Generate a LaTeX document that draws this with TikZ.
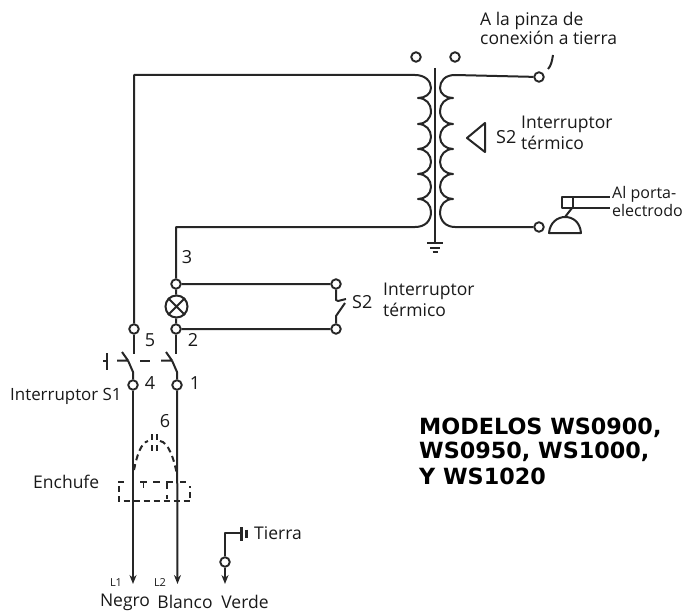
\documentclass[tikz,border=0pt]{standalone}
\usepackage{fontspec}
\setmainfont{Open Sans}
\newfontfamily\modelfont{DejaVu Sans}
\usetikzlibrary{arrows.meta}
\tikzset{
  wire/.style={line width=2pt,black!85,line cap=butt,line join=round},
  thin wire/.style={line width=1.2pt,black!85},
  term/.style={circle,draw=black!85,line width=1.9pt,fill=white,inner sep=0pt,minimum size=9.5pt},
  lbl/.style={inner sep=0pt,font=\fontsize{17.5}{18}\selectfont,text=black!90},
  lbll/.style={lbl,anchor=west,align=left},
  num/.style={inner sep=0pt,font=\fontsize{18}{18}\selectfont,text=black!90},
  dash wire/.style={line width=2pt,black!85,dash pattern=on 6pt off 4pt},
  tip wire/.style={wire,-{Stealth[length=9pt,width=7pt]}},
  modeltext/.style={inner sep=0pt,anchor=west,font=\modelfont\fontsize{22.3}{24}\bfseries\selectfont}
}
\begin{document}
\begin{tikzpicture}[x=1pt,y=-1pt]
\useasboundingbox (0,0) rectangle (687,615);
% terminals
\node[term] (tl) at (416,57) {};
\node[term] (tr) at (455,57) {};
\node[term] (out) at (539,77) {};
\node[term] (elec) at (539,227) {};
\node[term] (n3) at (176,284) {};
\node[term] (n2) at (176,329) {};
\node[term] (n5) at (134,329) {};
\node[term] (s2a) at (336,284) {};
\node[term] (s2b) at (336,329) {};
\node[term] (n4) at (133,385) {};
\node[term] (n1) at (177,385) {};
\node[term] (ng) at (225,562) {};
\node[circle,draw=black!85,line width=2pt,fill=white,inner sep=0pt,minimum size=22pt] (lamp) at (176.5,306.5) {};
\draw[wire] (lamp.45)--(lamp.225) (lamp.135)--(lamp.315);
% coordinates
\coordinate (ltop) at (134,75);
\coordinate (lbot) at (176,227);
\coordinate (sw5) at (134,354);
\coordinate (sw2) at (176,354);
% transformer core
\coordinate (coreT) at (435,68);
\coordinate (coreB) at (435,243);
\draw[line width=2.4pt,black!85] (coreT)--(coreB);
\draw[line width=2pt,black!85] (427,243)--(443,243) (430,247.5)--(440,247.5) (432.5,251.5)--(437.5,251.5);
% left coil
\draw[wire] (n5)--(ltop)--(415,75)
  .. controls (425,75) and (431,81) .. (431,88) .. controls (431,94) and (425,98) .. (418,98)
  .. controls (426,98) and (431,104) .. (431,111) .. controls (431,119) and (425,124) .. (418,124)
  .. controls (426,124) and (431,130) .. (431,137) .. controls (431,144) and (425,149) .. (418,149)
  .. controls (426,149) and (431,155) .. (431,162) .. controls (431,169) and (425,174) .. (418,174)
  .. controls (426,174) and (431,180) .. (431,187) .. controls (431,194) and (425,199) .. (418,199)
  .. controls (426,199) and (431,205) .. (431,212) .. controls (431,221) and (425,227) .. (415,227)
  -- (lbot) -- (n3);
% right coil
\draw[wire] (out)--(455,75)
  .. controls (445,75) and (440,81) .. (440,88) .. controls (440,94) and (446,98) .. (453,98)
  .. controls (445,98) and (440,104) .. (440,111) .. controls (440,119) and (446,124) .. (453,124)
  .. controls (445,124) and (440,130) .. (440,137) .. controls (440,144) and (446,149) .. (453,149)
  .. controls (445,149) and (440,155) .. (440,162) .. controls (440,169) and (446,174) .. (453,174)
  .. controls (445,174) and (440,180) .. (440,187) .. controls (440,194) and (446,199) .. (453,199)
  .. controls (445,199) and (440,205) .. (440,212) .. controls (440,221) and (446,227) .. (455,227)
  -- (elec);
% output switch arm
\coordinate (armA) at (548,69);
\coordinate (armB) at (553,55);
\draw[wire] (armA) .. controls (551,66) and (552,61) .. (armB);
% thermal triangle
\coordinate (triA) at (467,138);
\coordinate (triB) at (485,123);
\coordinate (triC) at (485,152);
\draw[wire] (triA)--(triB)--(triC)--cycle;
% electrode holder
\coordinate (domeL) at (549,233);
\coordinate (domeR) at (581,233);
\draw[wire] (domeL) .. controls (550,222) and (558,217) .. (565,217) .. controls (573,217) and (580,222) .. (domeR) -- cycle;
\coordinate (boxTL) at (562,197);
\coordinate (boxBR) at (573,208);
\draw[wire] (boxTL) rectangle (boxBR);
\draw[wire] (565,217) -- (572,208);
\coordinate (lead1) at (610,197);
\coordinate (lead2) at (610,208);
\draw[wire] (boxTL)--(lead1);
\draw[thin wire] (boxBR)--(lead2);
% S2 lower
\draw[wire] (n3)--(lamp) (lamp)--(n2) (n3)--(s2a) (n2)--(s2b);
\draw[wire] (n5)--(sw5) (n2)--(sw2);
\coordinate (s2k1) at (336,300);
\coordinate (s2k2) at (338,301);
\coordinate (s2k3) at (346,299);
\coordinate (s2k4) at (336,316);
\draw[wire] (s2a)--(s2k1)--(s2k2)--(s2k3);
\draw[wire] (345,303)--(s2k4)--(s2b);
% switches
\coordinate (bar1) at (107,353);
\coordinate (bar2) at (107,370);
\draw[wire] (bar1)--(bar2) (103,360.5)--(107,360.5);
\draw[wire] (117,360.5)--(128,360.5) (122,352)--(128,360.5);
\draw[wire] (128,360.5)--(133,372)--(n4);
\draw[wire] (140,360.5)--(150,360.5);
\draw[wire] (161,360.5)--(172,360.5) (166,352)--(172,360.5);
\draw[wire] (172,360.5)--(177,372)--(n1);
% supply lines
\coordinate (L1) at (133,584);
\coordinate (L2) at (177.5,584);
\coordinate (L3) at (225,584);
\draw[tip wire] (n4)--(L1);
\draw[tip wire] (n1)--(L2);
\draw[tip wire] (ng)--(L3);
% dashed capacitor and plug
\draw[dash wire] (134,470) .. controls (137,455) and (141,443) .. (148,441);
\draw[dash wire] (160,441) .. controls (168,442) and (174,458) .. (177,475);
\draw[line width=2pt,black!85] (151.5,434)--(151.5,440) (157,434)--(157,440) (151.5,445)--(151.5,451) (157,445)--(157,451);
\draw[dash wire] (124,481.5)--(118.5,481.5)--(118.5,501)--(190,501)--(190,486);
\draw[dash wire] (180,481.5)--(188,481.5);
\draw[line width=1.8pt,black!85] (140,482)--(147,482) (143.5,482)--(143.5,488) (153,482)--(160,482) (166,482)--(173,482) (167,482)--(167,489) (167,495)--(167,499);
% ground
\coordinate (gc) at (225,533);
\coordinate (gb) at (241,533);
\draw[wire] (ng)--(gc)--(gb);
\draw[line width=2.2pt,black!85] (241.5,527)--(241.5,541);
\draw[line width=3pt,black!85] (246.5,529.5)--(246.5,538);
% labels
\node[lbl,anchor=west] (t0) at (480,21) {A la pinza de};
\node[lbl,anchor=west] (t00) at (480,38) {conexión a tierra};
\node[num,anchor=west] (s2t) at (496,137) {S2};
\node[lbll] (t1) at (521,124) {Interruptor};
\node[lbll] (t2) at (521,143) {térmico};
\node[lbl,anchor=west,font=\fontsize{16}{16}\selectfont] (t3) at (612,194) {Al porta-};
\node[lbl,anchor=west,font=\fontsize{16}{16}\selectfont] (t4) at (612,210) {electrodo};
\node[num] (l3) at (187,257) {3};
\node[num] (l5) at (150,340) {5};
\node[num] (l2) at (193,340) {2};
\node[num] (l4) at (150,383) {4};
\node[num] (l1) at (195,383) {1};
\node[num] (l6) at (165,421) {6};
\node[num,anchor=west] (s2u) at (352,302) {S2};
\node[lbll] (t5) at (383,291) {Interruptor};
\node[lbll] (t6) at (383,310) {térmico};
\node[lbl,anchor=west,font=\fontsize{16.9}{17}\selectfont] (t7) at (10,396) {Interruptor S1};
\node[lbl,anchor=west] (t8) at (33,482) {Enchufe};
\node[lbl,anchor=west] (t9) at (254,533) {Tierra};
\node[lbl,font=\fontsize{11}{11}\selectfont] (t10) at (116,583) {L1};
\node[lbl,font=\fontsize{11}{11}\selectfont] (t11) at (160,583) {L2};
\node[lbl] (t12) at (125,602) {Negro};
\node[lbl] (t13) at (185,602) {Blanco};
\node[lbl] (t14) at (245,602) {Verde};
\node[modeltext] (m1) at (419,428) {MODELOS WS0900,};
\node[modeltext] (m2) at (419,452) {WS0950, WS1000,};
\node[modeltext] (m3) at (419,476) {Y WS1020};
\end{tikzpicture}
\end{document}
